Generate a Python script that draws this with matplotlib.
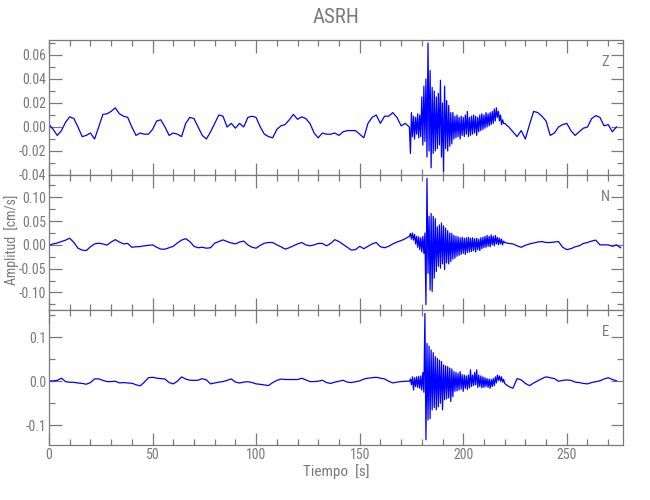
import numpy as np
import matplotlib
matplotlib.use('Agg')
import matplotlib.pyplot as plt
from matplotlib.ticker import MultipleLocator, FormatStrFormatter

plt.rcParams['font.family'] = ['Roboto Condensed', 'DejaVu Sans']
plt.rcParams['font.weight'] = 'normal'

# values, in units of 0.001 cm/s
# quiet part before the event: one value every 2 s from t = 0 s
z_pre = [2.2, -2, -7, -3, 4, 8.5, 7, 0, -8, -7,
         -5, -10, 0, 10.5, 11, 13, 16, 11, 9, 8,
         0, -7, -5, -6, -6, -2, 5, 6, 0, -7,
         -5, -6, -8, 3, 8, 7, 0, -7, -10, -4,
         3, 10, 9, 0, 3, -1, 3, 0, 8, 9,
         8, 0, -6, -8, -9, -2, 1, 2, 6, 10.5,
         6.4, 8.5, 7, 3, -5, -9, -5, -6, -6, -5,
         -7, -4, -3, -3, -3, -6, -9, 3, 8, 10,
         3, 9, 9, 12, 8, 1, 3, 0]
n_pre = [-0.5, 2, 4, 7, 10, 14, 5, -7, -11, -12,
         -4, 2, 3.5, 2, -0.5, 6, 11, 6, 2, 3,
         -5, -4, -3.5, -2, -1, 0, -5, -9, -9, -6,
         -3, 4, 10, 13, 7, -3, -6, -5, -7, -6,
         3.5, 7, 10.5, 7, 4, 2, 6, 8, 0, -5,
         -7, -1, 3.5, 5, 5, 0, -4, -9, -6, -2,
         2, 5, 0, -2, 0, 3, 3, -2, 3, 11,
         7, 1, -5, -11, -10, -3, -8, -3, 2, 5,
         -4, -6, -3, 2, 6, 9, 13, 18]
e_pre = [0.8, 0.8, 2, 7, -1, -2.3, -2.5, -4, -5, -6.8,
         -3, 5.3, 5.3, 2, -0.8, -0.8, 0, -3.8, -3, -4,
         -4.5, -8, -10.6, -2.3, 8, 9, 7, 6, 5, -3,
         -6, 0, 9.8, 5, 2.3, 2, 2.3, 6, 3, -6,
         -4, -2, -0.8, 2, 5.3, -2, -4, -2, -1, -3,
         -6, -7, -8.5, -9.8, -3, 2, 5, 4, 3.8, 4,
         3.8, 6.8, 3, -0.8, -0.8, 0, 2.3, -3, -5, -2,
         0, 2.3, -2, -3, -1, 0.8, 5, 7, 8, 9,
         7, 5.3, 0, -3.8, -2, -0.8, 0, 0]

# the event: one value every 0.5 s from t = 174 s
z_evt = [0, -22, 12, -8, 9, -10, 8, -6, 11, -9,
         10, -8, 25, -15, 34, -12, 40, -25, 70, -20,
         47, -34, 33, -22, 30, -20, 25, -18, 28, -15,
         39, -25, 20, -37, 34, -18, 22, -20, 18, -16,
         12, -14, 12, -10, 9, -9, 10, -8, 8, -10,
         9, -7, 8, -8, 10, -6, 13, -8, 8, -7,
         9, -6, 10, -5, 9, -7, 8, -4, 10, -3,
         11, -2, 10, -1, 12, 0, 11, 1, 12, 2,
         13, 3, 15, 5, 16, 8, 13, 5, 10, 2,
         6, 3]
n_evt = [18, 24, 12, 25, 10, 22, 2, 18, -5, 17,
         -10, 15, -15, 18, -18, 25, -126, 140, -60, 60,
         -95, 66, -98, 60, -70, 55, -56, 38, -45, 42,
         -49, 46, -40, 40, -52, 35, -38, 30, -40, 25,
         -35, 24, -30, 20, -28, 18, -24, 17, -22, 15,
         -20, 16, -18, 14, -20, 15, -16, 16, -15, 14,
         -14, 15, -12, 13, -15, 14, -10, 12, -12, 15,
         -8, 16, -6, 18, -5, 20, -3, 18, -4, 21,
         0, 18, -2, 20, 2, 16, 0, 14, 2, 12,
         0, 8]
e_evt = [0, 5, -8, 10, -20, 8, -12, 10, -14, 11,
         -16, 12, -20, 20, -25, 154, -133, 86, -88, 80,
         -85, 71, -65, 65, -60, 56, -65, 52, -58, 48,
         -50, 45, -65, 37, -42, 35, -40, 33, -38, 30,
         -46, 28, -35, 22, -23, 20, -22, 18, -20, 22,
         -18, 15, -23, 14, -16, 12, -19, 14, -15, 26,
         -12, 14, -10, 20, -8, 26, -14, 14, -12, 12,
         -15, 10, -14, 8, -12, 6, -14, 5, -16, 4,
         -12, 6, -10, 10, -4, 14, 2, 12, 0, 10,
         -2, 4]

# coda: one value every 2 s from t = 220 s
z_post = [3, 0, -4, -8, -3, -10, 2, 13, 12, 9,
          5, -7, -5, 0, 2, 3, -3, -7, -4, -1,
          0, 7, 9.5, 8, 1, 2, -4, 0]
n_post = [5, 3, 2, -2, -5, -1, 2, 4, 6, 7,
          5, 5, 6, 7, -5, -10, -8, -4, -2, 3,
          5, 8, 10, 0, 0, 0, -3, 0, -6]
e_post = [-5, -12, -16, 6, 3, -5, -10, -4, 1, 6,
          10, 8, 6, 0, 2, 3, 2, -2, -3, -5,
          -6, -3, -1, 1, 5, 8, 4, 1]

componentes = ['Z', 'N', 'E']
ylims = [(-0.04, 0.0725), (-0.137, 0.147), (-0.145, 0.162)]
ymajor = [0.02, 0.05, 0.1]
yminor = [0.01, 0.025, 0.05]
yfmt = ['%.2f', '%.2f', '%.1f']

gris = '#7a7a7a'


def serie(pre, evt, post):
    t = np.concatenate([0 + 2.0 * np.arange(len(pre)),
                        174 + 0.5 * np.arange(len(evt)),
                        220 + 2.0 * np.arange(len(post))])
    v = np.array(pre + evt + post) / 1000.0
    return t, v


datos = [serie(z_pre, z_evt, z_post),
         serie(n_pre, n_evt, n_post),
         serie(e_pre, e_evt, e_post)]

fig = plt.figure(figsize=(6.5, 5), dpi=100)
izq, ancho, alto = 0.0754, 0.8826, 0.27
bases = [0.65, 0.38, 0.11]

for i in range(3):
    ax = fig.add_axes([izq, bases[i], ancho, alto])
    t, v = datos[i]
    ax.plot(t, v, color='#0000ff', lw=0.9)
    ax.set_xlim(0, 277)
    ax.set_ylim(*ylims[i])
    ax.xaxis.set_major_locator(MultipleLocator(50))
    ax.xaxis.set_minor_locator(MultipleLocator(10))
    ax.yaxis.set_major_locator(MultipleLocator(ymajor[i]))
    ax.yaxis.set_minor_locator(MultipleLocator(yminor[i]))
    ax.yaxis.set_major_formatter(FormatStrFormatter(yfmt[i]))
    ax.tick_params(which='both', direction='in', top=True, right=True,
                   color=gris, labelcolor=gris, labelsize=10, width=0.9, pad=2)
    ax.tick_params(which='major', length=9)
    ax.tick_params(which='minor', length=4.5)
    for s in ax.spines.values():
        s.set_color(gris)
        s.set_linewidth(0.9)
    if i < 2:
        ax.tick_params(labelbottom=False)
    ax.text(0.97, 0.84, componentes[i], transform=ax.transAxes,
            ha='center', va='center', color=gris, fontsize=10.5)

fig.text(0.517, 0.965, 'ASRH', ha='center', va='center', color=gris, fontsize=15)
fig.text(0.517, 0.057, 'Tiempo  [s]', ha='center', va='center', color=gris, fontsize=11)
fig.text(0.018, 0.52, 'Amplitud  [cm/s]', ha='center', va='center',
         rotation=90, color=gris, fontsize=10)

fig.savefig('out.png', dpi=100)
